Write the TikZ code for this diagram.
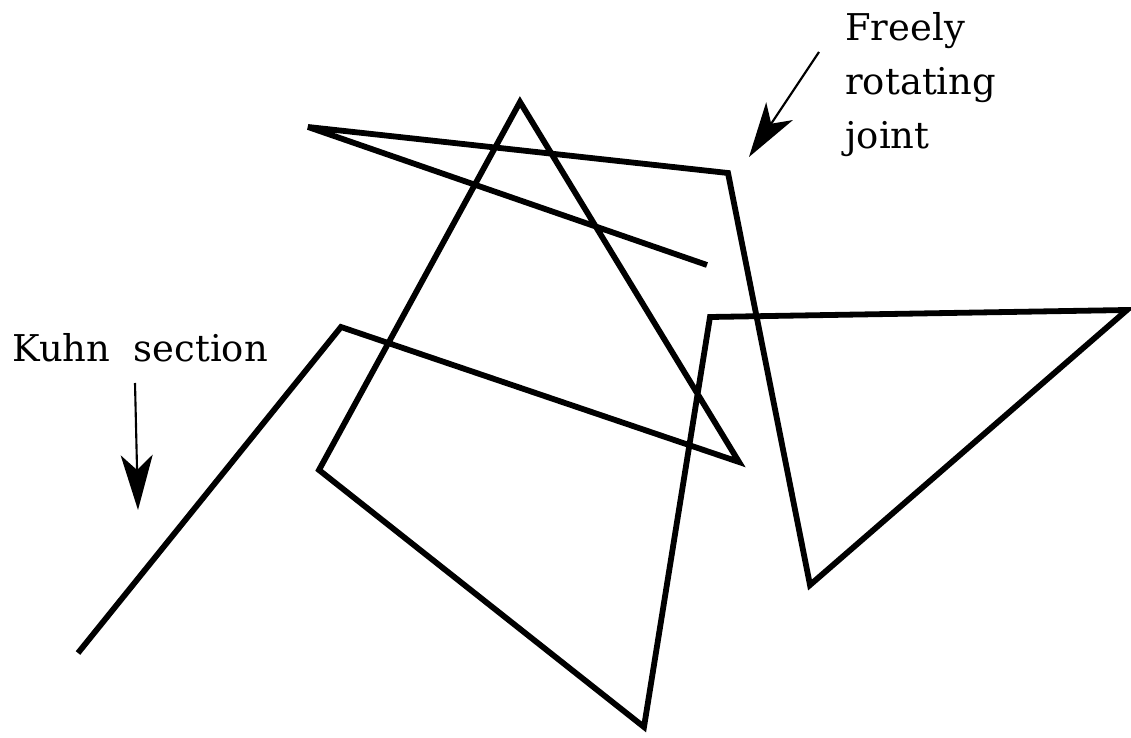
\documentclass[tikz,border=0pt]{standalone}
\usepackage{fontspec}
\setmainfont{DejaVu Serif}
\usetikzlibrary{arrows.meta}

\begin{document}
\begin{tikzpicture}[
  chain/.style={line width=3.3pt,line join=miter,miter limit=4,line cap=butt},
  pointer/.style={line width=1.2pt,-{Stealth[length=11mm,width=6.4mm,inset=3mm]}},
  label/.style={inner sep=0pt,align=left,font=\fontsize{21pt}{30.7pt}\selectfont}
]
\useasboundingbox (0,0) rectangle (22.62,14.74);
% joints of the chain
\coordinate (j0) at (1.56,1.68);
\coordinate (j1) at (6.82,8.20);
\coordinate (j2) at (14.78,5.50);
\coordinate (j3) at (10.40,12.70);
\coordinate (j4) at (6.38,5.34);
\coordinate (j5) at (12.88,0.20);
\coordinate (j6) at (14.20,8.40);
\coordinate (j7) at (22.54,8.54);
\coordinate (j8) at (16.20,3.04);
\coordinate (j9) at (14.56,11.28);
\coordinate (j10) at (6.16,12.20);
\coordinate (j11) at (14.14,9.44);
\draw[chain] (j0) -- (j1) -- (j2) -- (j3) -- (j4) -- (j5) -- (j6)
  -- (j7) -- (j8) -- (j9) -- (j10) -- (j11);
% labels
\node[label,anchor=north west] (joint) at (16.90,14.50) {Freely\\rotating\\joint};
\node[label,anchor=base west] (kuhn) at (0.24,7.50) {Kuhn\ \ section};
\coordinate (jointTail) at (16.38,13.70);
\coordinate (jointTip) at (14.98,11.60);
\coordinate (kuhnTail) at (2.70,7.08);
\coordinate (kuhnTip) at (2.76,4.54);
\draw[pointer] (jointTail) -- (jointTip);
\draw[pointer] (kuhnTail) -- (kuhnTip);
\end{tikzpicture}
\end{document}
